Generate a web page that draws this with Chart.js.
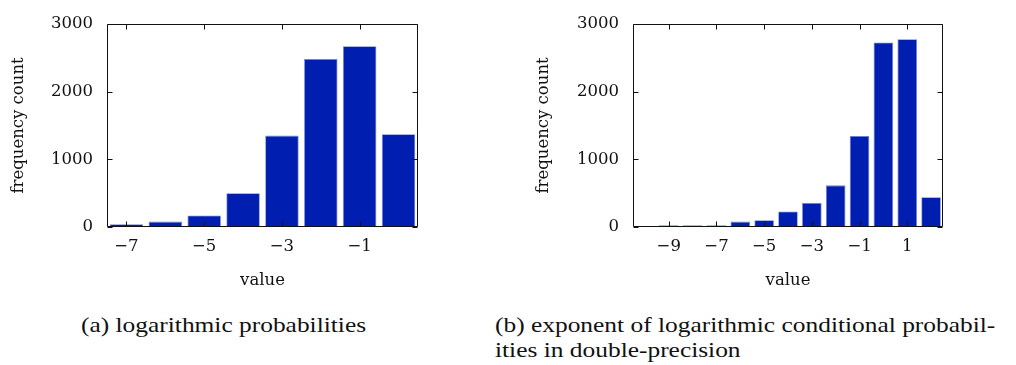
<!DOCTYPE html>
<html>
<head>
<meta charset="utf-8">
<script src="https://cdn.jsdelivr.net/npm/chart.js@4/dist/chart.umd.min.js"></script>
<style>
  html, body { margin:0; padding:0; background:#fff; }
  body { width:1016px; height:365px; position:relative; overflow:hidden; }
  canvas { position:absolute; top:0; }
  .cap { position:absolute; font-family:"Liberation Serif", serif; font-size:21px; line-height:25px; color:#111; white-space:nowrap; transform:scaleX(1.21); transform-origin:0 0; }
</style>
</head>
<body>
<canvas id="c1" width="430" height="300" style="left:0px;width:430px;height:300px"></canvas>
<canvas id="c2" width="430" height="300" style="left:520px;width:430px;height:300px"></canvas>
<div class="cap" style="left:81px;top:313px">(a) logarithmic probabilities</div>
<div class="cap" style="left:495px;top:313px">(b) exponent of logarithmic conditional probabil-<br>ities in double-precision</div>
<script>
// ---- data ----
const leftCategories = [-7, -6, -5, -4, -3, -2, -1, 0];
const leftCounts = [40, 80, 170, 500, 1350, 2480, 2670, 1370];
const leftTickLabels = [-7, -5, -3, -1];

const rightCategories = [-10, -9, -8, -7, -6, -5, -4, -3, -2, -1, 0, 1, 2];
const rightCounts = [15, 25, 25, 25, 80, 100, 230, 355, 615, 1345, 2725, 2775, 440];
const rightTickLabels = [-9, -7, -5, -3, -1, 1];

const yTickValues = [0, 1000, 2000, 3000];
const xTitle = 'value';
const yTitle = 'frequency count';

// ---- helpers ----
const fmt = v => (v < 0 ? '\u2212' + Math.abs(v) : String(v));

function framePlugin(tickLabels) {
  return {
    id: 'frame',
    afterDatasetsDraw(chart) {
      const {ctx, chartArea: a, scales: {x, y}} = chart;
      ctx.save();
      ctx.strokeStyle = '#111';
      ctx.lineWidth = 1;
      const L = Math.round(a.left) + 0.5, R = Math.round(a.right) - 0.5;
      const T = Math.round(a.top) + 0.5, B = Math.round(a.bottom) - 0.5;
      ctx.beginPath();
      ctx.rect(L, T, R - L, B - T);
      ctx.stroke();
      const len = 5;
      ctx.beginPath();
      chart.data.labels.forEach((lab, i) => {
        if (!tickLabels.includes(lab)) return;
        const px = Math.round(x.getPixelForValue(i)) + 0.5;
        ctx.moveTo(px, B); ctx.lineTo(px, B - len);
        ctx.moveTo(px, T); ctx.lineTo(px, T + len);
      });
      yTickValues.forEach(v => {
        const py = Math.round(y.getPixelForValue(v)) + 0.5;
        ctx.moveTo(L, py); ctx.lineTo(L + len, py);
        ctx.moveTo(R, py); ctx.lineTo(R - len, py);
      });
      ctx.stroke();
      ctx.restore();
    }
  };
}

function makeChart(id, categories, counts, tickLabels, opts) {
  const tickFont = {family: '"DejaVu Serif", serif', size: 16.5};
  const titleFont = {family: '"DejaVu Serif", serif', size: 16.5};
  return new Chart(document.getElementById(id), {
    type: 'bar',
    data: {
      labels: categories,
      datasets: [{
        data: counts,
        backgroundColor: 'rgb(0,31,176)',
        borderColor: 'rgb(110,130,215)',
        borderWidth: 0.8,
        categoryPercentage: 1,
        barPercentage: opts.barPct
      }]
    },
    options: {
      responsive: false,
      animation: false,
      devicePixelRatio: 1,
      layout: {padding: {left: 0, right: opts.padRight, top: 19, bottom: 0}},
      plugins: {legend: {display: false}, tooltip: {enabled: false}},
      scales: {
        x: {
          type: 'category',
          offset: true,
          grid: {display: false, drawTicks: false},
          border: {display: false},
          ticks: {
            autoSkip: false, maxRotation: 0, padding: 10, color: '#111', font: tickFont,
            callback: function(val, idx) {
              const lab = categories[idx];
              return tickLabels.includes(lab) ? fmt(lab) : '';
            }
          },
          title: {display: true, text: xTitle, color: '#111', font: titleFont, padding: {top: 0, bottom: 9}},
          afterFit: s => { s.height = 300 - 227; }
        },
        y: {
          min: 0, max: 3000,
          afterBuildTicks: s => { s.ticks = yTickValues.map(v => ({value: v})); },
          grid: {display: false, drawTicks: false},
          border: {display: false},
          ticks: {padding: 14, color: '#111', font: tickFont, callback: v => fmt(v)},
          title: {display: true, text: yTitle, color: '#111', font: titleFont, padding: {top: opts.yTitlePad, bottom: 0}},
          afterFit: s => { s.width = opts.plotLeft; }
        }
      }
    },
    plugins: [framePlugin(tickLabels)]
  });
}

makeChart('c1', leftCategories, leftCounts, leftTickLabels, {barPct: 0.86, padRight: 12, plotLeft: 107, yTitlePad: 9});
makeChart('c2', rightCategories, rightCounts, rightTickLabels, {barPct: 0.82, padRight: 7, plotLeft: 113, yTitlePad: 14});
</script>
</body>
</html>
